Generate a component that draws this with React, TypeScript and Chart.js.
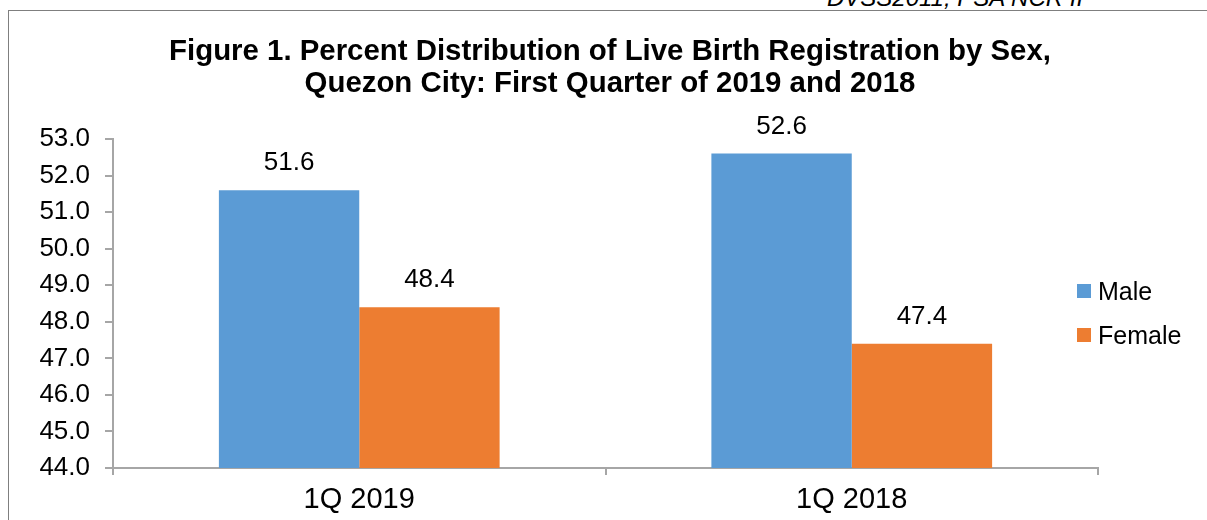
import React, { useEffect, useRef } from "react";
import { Chart, registerables } from "chart.js";

Chart.register(...registerables);

const categories = ["1Q 2019", "1Q 2018"];
const seriesNames = ["Male", "Female"];
const maleValues = [51.6, 52.6];
const femaleValues = [48.4, 47.4];
const seriesColors = ["#5B9BD5", "#ED7D31"];
const yTicks = [44, 45, 46, 47, 48, 49, 50, 51, 52, 53];
const titleLines = [
  "Figure 1. Percent Distribution of Live Birth Registration by Sex,",
  "Quezon City: First Quarter of 2019 and 2018",
];
const sourceText = "DVSS2011, PSA NCR II";

const FONT = "'Liberation Sans', Arial, sans-serif";

const valueLabels = {
  id: "valueLabels",
  afterDatasetsDraw(chart: any) {
    const ctx = chart.ctx;
    ctx.save();
    ctx.font = `26px ${FONT}`;
    ctx.fillStyle = "#000";
    ctx.textAlign = "center";
    ctx.textBaseline = "middle";
    chart.data.datasets.forEach((ds: any, i: number) => {
      const meta = chart.getDatasetMeta(i);
      meta.data.forEach((el: any, j: number) => {
        ctx.fillText(Number(ds.data[j]).toFixed(1), el.x, el.y - 27);
      });
    });
    ctx.restore();
  },
};

export default function App() {
  const ref = useRef<HTMLCanvasElement | null>(null);
  useEffect(() => {
    if (!ref.current) return;
    const gridColor = "#a6a6a6";
    const chart = new Chart(ref.current, {
      type: "bar",
      data: {
        labels: categories,
        datasets: [
          { label: seriesNames[0], data: maleValues, backgroundColor: seriesColors[0] },
          { label: seriesNames[1], data: femaleValues, backgroundColor: seriesColors[1] },
        ],
      },
      options: {
        responsive: false,
        animation: false,
        maintainAspectRatio: false,
        layout: { padding: { left: 0, right: 109, top: 139, bottom: 0 } },
        datasets: { bar: { categoryPercentage: 0.57, barPercentage: 1 } },
        plugins: {
          legend: { display: false },
          tooltip: { enabled: false },
          title: { display: false },
        },
        scales: {
          x: {
            grid: { offset: true, drawOnChartArea: false, tickLength: 7, color: gridColor, lineWidth: 2 },
            border: { color: gridColor, width: 2 },
            ticks: { color: "#000", font: { size: 29, family: FONT }, padding: 8 },
            afterFit: (s: any) => { s.height = 52; },
          },
          y: {
            min: yTicks[0],
            max: yTicks[yTicks.length - 1],
            afterBuildTicks: (s: any) => { s.ticks = yTicks.map((v) => ({ value: v })); },
            grid: { drawOnChartArea: false, tickLength: 8, color: gridColor, lineWidth: 2 },
            border: { color: gridColor, width: 2 },
            ticks: {
              color: "#000",
              font: { size: 26, family: FONT },
              padding: 15,
              callback: (v: any) => Number(v).toFixed(1),
            },
            afterFit: (s: any) => { s.width = 113; },
          },
        },
      },
      plugins: [valueLabels],
    } as any);
    return () => chart.destroy();
  }, []);

  return (
    <div style={{ position: "fixed", left: 0, top: 0, width: 1207, height: 520, background: "#fff", overflow: "hidden" }}>
      <div
        style={{
          position: "absolute", left: 827, top: -14, fontFamily: FONT, fontStyle: "italic",
          fontSize: 24, lineHeight: "24px", whiteSpace: "nowrap", color: "#000",
        }}
      >
        {sourceText}
      </div>
      <div
        style={{
          position: "absolute", left: 8, top: 10, width: 1400, height: 700,
          borderTop: "1px solid #7f7f7f", borderLeft: "1px solid #7f7f7f",
        }}
      />
      <canvas ref={ref} width={1207} height={520} style={{ position: "absolute", left: 0, top: 0 }} />
      <div
        style={{
          position: "absolute", left: 110, width: 1000, top: 34, textAlign: "center",
          fontFamily: FONT, fontWeight: "bold", fontSize: 29.4, lineHeight: "32px", color: "#000",
          whiteSpace: "nowrap",
        }}
      >
        {titleLines.map((t) => (
          <div key={t}>{t}</div>
        ))}
      </div>
      <div style={{ position: "absolute", left: 1077, top: 276, fontFamily: FONT, fontSize: 25, color: "#000" }}>
        {seriesNames.map((n, i) => (
          <div key={n} style={{ display: "flex", alignItems: "center", height: 30, marginBottom: i === 0 ? 14 : 0 }}>
            <span style={{ display: "inline-block", width: 14, height: 14, background: seriesColors[i], marginRight: 7 }} />
            <span>{n}</span>
          </div>
        ))}
      </div>
    </div>
  );
}
